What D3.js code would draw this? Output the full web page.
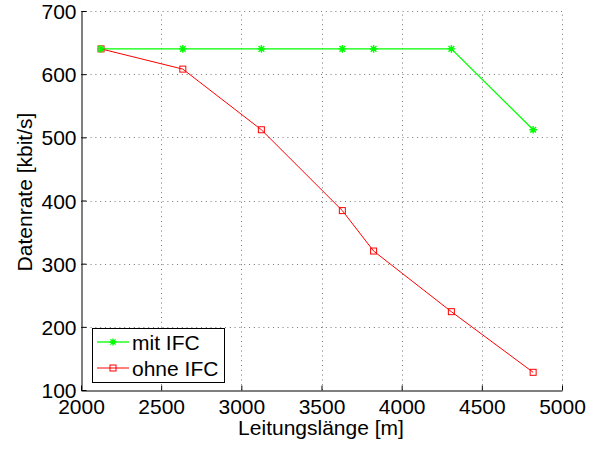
<!DOCTYPE html>
<html>
<head>
<meta charset="utf-8">
<script src="https://cdn.jsdelivr.net/npm/d3@7"></script>
<style>
  body { margin: 0; background: #fff; }
  text { font-family: "Liberation Sans", Arial, sans-serif; fill: #000; }
</style>
</head>
<body>
<div id="chart"></div>
<script>
// Leitungslaenge [m]
var laenge = [2125, 2635, 3125, 3630, 3825, 4310, 4820];
// Datenrate [kbit/s]
var mitIFC  = [640, 640, 640, 640, 640, 640, 512];
var ohneIFC = [640, 608, 512, 384, 320, 224, 128];
var xTicks = [2000, 2500, 3000, 3500, 4000, 4500, 5000];
var yTicks = [100, 200, 300, 400, 500, 600, 700];
var seriesNames = ["mit IFC", "ohne IFC"];

var W = 594, H = 457;
var pLeft = 81, pRight = 562, pTop = 11, pBottom = 390;
var fs = 21;

var svg = d3.select("#chart").append("svg")
  .attr("width", W).attr("height", H);

var x = d3.scaleLinear().domain([2000, 5000]).range([pLeft, pRight]);
var y = d3.scaleLinear().domain([100, 700]).range([pBottom, pTop]);

// grid
var grid = svg.append("g").attr("stroke", "#777").attr("stroke-width", 1)
  .attr("stroke-dasharray", "1,3.8");
grid.selectAll(".gx").data(xTicks.slice(1)).enter().append("line")
  .attr("x1", function(d){ return Math.round(x(d)) + 0.5; })
  .attr("x2", function(d){ return Math.round(x(d)) + 0.5; })
  .attr("y1", pBottom).attr("y2", pTop);
grid.selectAll(".gy").data(yTicks.slice(1)).enter().append("line")
  .attr("y1", function(d){ return Math.round(y(d)) + 0.5; })
  .attr("y2", function(d){ return Math.round(y(d)) + 0.5; })
  .attr("x1", pLeft).attr("x2", pRight);

// axes (MATLAB style: inward ticks, box off)
var xAxis = d3.axisBottom(x).tickValues(xTicks).tickFormat(d3.format("d"))
  .tickSizeInner(-5).tickSizeOuter(0).tickPadding(8);
var yAxis = d3.axisLeft(y).tickValues(yTicks).tickFormat(d3.format("d"))
  .tickSizeInner(-5).tickSizeOuter(0).tickPadding(5);

var gx = svg.append("g").attr("transform", "translate(0," + (pBottom + 0.5) + ")").call(xAxis);
var gy = svg.append("g").attr("transform", "translate(" + (pLeft + 0.5) + ",0)").call(yAxis);
[gx, gy].forEach(function(g){
  g.select(".domain").attr("stroke", "#000");
  g.selectAll(".tick line").attr("stroke", "#000");
  g.selectAll(".tick text").attr("font-size", fs).attr("fill", "#000")
    .attr("font-family", "Liberation Sans, Arial, sans-serif");
});
gy.selectAll(".tick text").attr("dy", "0.36em");
gx.selectAll(".tick text").attr("dy", "0.72em");

// axis labels
svg.append("text").attr("x", 321).attr("y", 435).attr("text-anchor", "middle")
  .attr("font-size", fs).text("Leitungslänge [m]");
svg.append("text").attr("transform", "translate(32," + 192 + ") rotate(-90)")
  .attr("text-anchor", "middle").attr("font-size", fs).text("Datenrate [kbit/s]");

// lines
var line = d3.line().x(function(d){ return x(d[0]); }).y(function(d){ return y(d[1]); });
var greenPts = d3.zip(laenge, mitIFC);
var redPts = d3.zip(laenge, ohneIFC);

svg.append("path").datum(greenPts).attr("d", line)
  .attr("fill", "none").attr("stroke", "#00ff00").attr("stroke-width", 1.3);
svg.append("path").datum(redPts).attr("d", line)
  .attr("fill", "none").attr("stroke", "#ff0000").attr("stroke-width", 1);

function asterisk(g, cx, cy, r){
  g.append("path")
    .attr("d", "M" + (cx - r) + "," + cy + "H" + (cx + r) +
               "M" + cx + "," + (cy - r) + "V" + (cy + r) +
               "M" + (cx - r*0.75) + "," + (cy - r*0.75) + "L" + (cx + r*0.75) + "," + (cy + r*0.75) +
               "M" + (cx - r*0.75) + "," + (cy + r*0.75) + "L" + (cx + r*0.75) + "," + (cy - r*0.75))
    .attr("stroke", "#00ff00").attr("stroke-width", 1.4).attr("fill", "none");
}

var redG = svg.append("g");
redG.selectAll("rect").data(redPts).enter().append("rect")
  .attr("x", function(d){ return x(d[0]) - 3; })
  .attr("y", function(d){ return y(d[1]) - 3; })
  .attr("width", 6).attr("height", 6)
  .attr("fill", "none").attr("stroke", "#ff0000").attr("stroke-width", 1);

var greenG = svg.append("g");
greenPts.forEach(function(d){ asterisk(greenG, x(d[0]), y(d[1]), 3.8); });

// legend
var lg = svg.append("g");
lg.append("rect").attr("x", 92.5).attr("y", 328.5).attr("width", 132).attr("height", 54)
  .attr("fill", "#fff").attr("stroke", "#000").attr("stroke-width", 1);
var colors = ["#00ff00", "#ff0000"];
seriesNames.forEach(function(name, i){
  var ly = 342 + i * 26;
  lg.append("line").attr("x1", 97).attr("x2", 129).attr("y1", ly).attr("y2", ly)
    .attr("stroke", colors[i]).attr("stroke-width", i === 0 ? 1.3 : 1);
  if (i === 0) asterisk(lg, 113, ly, 3.5);
  else lg.append("rect").attr("x", 110).attr("y", ly - 3).attr("width", 6).attr("height", 6)
    .attr("fill", "none").attr("stroke", "#ff0000");
  lg.append("text").attr("x", 132).attr("y", ly).attr("dy", "0.36em")
    .attr("font-size", fs).text(name);
});
</script>
</body>
</html>
